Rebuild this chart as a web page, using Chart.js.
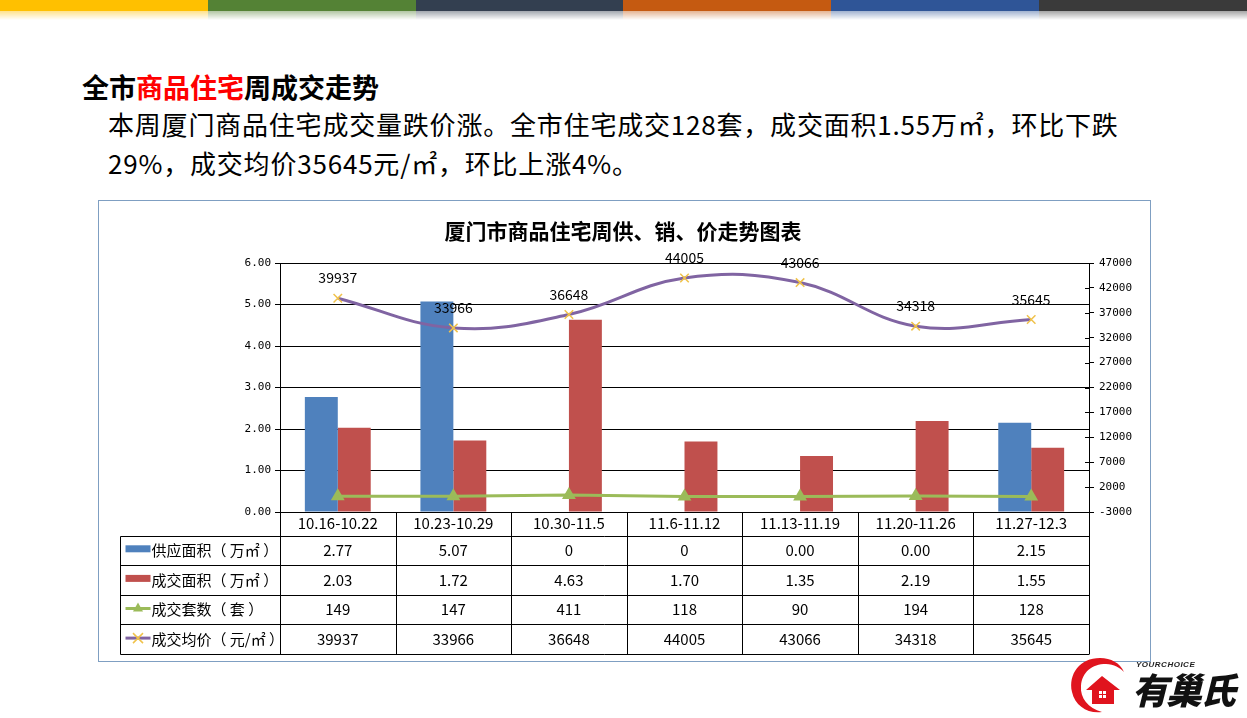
<!DOCTYPE html>
<html>
<head>
<meta charset="utf-8">
<script src="https://cdn.jsdelivr.net/npm/chart.js@4.4.0/dist/chart.umd.min.js"></script>
<style>
  body { margin: 0; width: 1247px; height: 718px; background: #fff; position: relative; overflow: hidden; font-family: "Noto Sans CJK SC", sans-serif; }
  .bar { position: absolute; left: 0; top: 0; width: 1247px; height: 11px; display: flex; }
  .bar div { flex: 1; }
  .fade { position: absolute; left: 0; top: 11px; width: 1247px; height: 9px; display: flex; opacity: .45; }
  .fade div { flex: 1; }
  .head { position: absolute; left: 82px; top: 70px; font-size: 27px; font-weight: bold; line-height: 34px; color: #000; }
  .head span { color: #ff0000; }
  .body { position: absolute; left: 108px; top: 104px; font-size: 26px; line-height: 39px; letter-spacing: 0.8px; color: #000; white-space: nowrap; }
  .box { position: absolute; left: 98px; top: 200px; width: 1051px; height: 460px; border: 1px solid #7f9fc2; }
  .ctitle { position: absolute; left: 0; top: 15px; width: 1048px; text-align: center; font-size: 21px; font-weight: bold; line-height: 28px; color: #000; }
  .logo { position: absolute; left: 1066px; top: 650px; width: 180px; height: 68px; }
  .logo .en { position: absolute; left: 70px; top: 10px; font: italic bold 8px Arial, sans-serif; letter-spacing: 0.5px; color: #222; }
  .logo .cn { position: absolute; left: 66px; top: 16px; font-size: 36px; font-weight: 900; font-style: italic; line-height: 44px; color: #111; letter-spacing: -2px; }
</style>
</head>
<body>
<div class="bar">
  <div style="background:#ffc000"></div><div style="background:#548235"></div><div style="background:#333f50"></div>
  <div style="background:#c55a11"></div><div style="background:#2f5597"></div><div style="background:#3a3a3a"></div>
</div>
<div class="fade">
  <div style="background:linear-gradient(#ffc000,transparent)"></div><div style="background:linear-gradient(#548235,transparent)"></div><div style="background:linear-gradient(#333f50,transparent)"></div>
  <div style="background:linear-gradient(#c55a11,transparent)"></div><div style="background:linear-gradient(#2f5597,transparent)"></div><div style="background:linear-gradient(#3a3a3a,transparent)"></div>
</div>

<div class="head">全市<span>商品住宅</span>周成交走势</div>
<div class="body">本周厦门商品住宅成交量跌价涨。全市住宅成交128套，成交面积1.55万㎡，环比下跌<br>29%，成交均价35645元/㎡，环比上涨4%。</div>

<div class="box">
  <canvas id="chart" width="1051" height="460"></canvas>
  <div class="ctitle">厦门市商品住宅周供、销、价走势图表</div>
</div>

<div class="logo">
  <svg width="70" height="68" viewBox="0 0 70 68">
    <path d="M34 8 C14 8 2 24 6 42 C9 56 22 64 36 62 C22 58 14 48 15 36 C16 22 26 14 40 14 C48 14 54 18 58 22 C54 13 45 8 34 8 Z" fill="#e0141e"/>
    <path d="M20 40 L36 26 L54 40 L48 40 L48 54 L26 54 L26 40 Z" fill="#e0141e"/>
    <rect x="33" y="41" width="3" height="3" fill="#fff"/><rect x="37" y="41" width="3" height="3" fill="#fff"/>
    <rect x="33" y="45" width="3" height="3" fill="#fff"/><rect x="37" y="45" width="3" height="3" fill="#fff"/>
  </svg>
  <div class="en">YOURCHOICE</div>
  <div class="cn">有巢氏</div>
</div>

<script>
// weekly periods
const weeks = ['10.16-10.22', '10.23-10.29', '10.30-11.5', '11.6-11.12', '11.13-11.19', '11.20-11.26', '11.27-12.3'];

// values as printed in the data table
const supplyText = ['2.77', '5.07', '0', '0', '0.00', '0.00', '2.15'];   // 供应面积 万㎡
const salesText  = ['2.03', '1.72', '4.63', '1.70', '1.35', '2.19', '1.55']; // 成交面积 万㎡
const unitsText  = ['149', '147', '411', '118', '90', '194', '128'];        // 成交套数 套
const priceText  = ['39937', '33966', '36648', '44005', '43066', '34318', '35645']; // 成交均价 元/㎡

const supply = supplyText.map(Number);
const sales = salesText.map(Number);
const units = unitsText.map(Number);
const price = priceText.map(Number);

const rowNames = ['供应面积（ 万㎡ ）', '成交面积（ 万㎡ ）', '成交套数（ 套 ）', '成交均价（ 元/㎡ ）'];

const C_BLUE = '#4f81bd', C_RED = '#c0504d', C_GREEN = '#9bbb59', C_PURPLE = '#8064a2', C_MARK = '#f0c24a';
const CJK = '"Noto Sans CJK SC", sans-serif';
const MONO = '"DejaVu Sans Mono", monospace';

// price labels above points, right axis inner ticks and the data table
const extras = {
    id: 'extras',
    afterDatasetsDraw(chart) {
        const ctx = chart.ctx;
        const meta = chart.getDatasetMeta(3);
        ctx.save();
        ctx.fillStyle = '#000';
        ctx.font = '14px ' + CJK;
        ctx.textAlign = 'center';
        ctx.textBaseline = 'middle';
        meta.data.forEach((pt, i) => ctx.fillText(priceText[i], pt.x, pt.y - 20));
        ctx.restore();
    },
    afterDraw(chart) {
        const ctx = chart.ctx;
        const area = chart.chartArea;
        const xs = chart.scales.x;
        const y1 = chart.scales.y1;
        ctx.save();
        ctx.strokeStyle = '#000';
        ctx.lineWidth = 1;

        // short inner tick marks on the right axis
        y1.ticks.forEach(t => {
            const y = Math.round(y1.getPixelForValue(t.value)) + 0.5;
            ctx.beginPath(); ctx.moveTo(area.right - 4, y); ctx.lineTo(area.right, y); ctx.stroke();
        });

        const colW = (area.right - area.left) / weeks.length;
        const left = 21.5;
        const rows = [area.bottom, area.bottom + 23.5];
        for (let r = 0; r < 4; r++) rows.push(rows[rows.length - 1] + 29.6);
        const bottom = rows[rows.length - 1];

        // horizontal lines
        rows.slice(1).forEach(y => {
            y = Math.round(y) + 0.5;
            ctx.beginPath(); ctx.moveTo(left, y); ctx.lineTo(area.right, y); ctx.stroke();
        });
        // vertical lines
        ctx.beginPath(); ctx.moveTo(left, Math.round(rows[1]) + 0.5); ctx.lineTo(left, Math.round(bottom) + 0.5); ctx.stroke();
        for (let i = 0; i <= weeks.length; i++) {
            const x = Math.round(area.left + i * colW) + 0.5;
            ctx.beginPath(); ctx.moveTo(x, area.bottom); ctx.lineTo(x, Math.round(bottom) + 0.5); ctx.stroke();
        }

        ctx.fillStyle = '#000';
        ctx.textBaseline = 'middle';
        ctx.textAlign = 'center';
        ctx.font = '15px ' + CJK;
        weeks.forEach((w, i) => ctx.fillText(w, xs.getPixelForValue(i), (rows[0] + rows[1]) / 2));

        const tables = [supplyText, salesText, unitsText, priceText];
        tables.forEach((arr, r) => {
            const cy = (rows[r + 1] + rows[r + 2]) / 2;
            arr.forEach((v, i) => ctx.fillText(v, xs.getPixelForValue(i), cy));
        });

        // legend keys + row names
        ctx.textAlign = 'left';
        rowNames.forEach((name, r) => {
            const cy = (rows[r + 1] + rows[r + 2]) / 2;
            const kx = left + 5, kw = 25;
            if (r < 2) {
                ctx.fillStyle = r === 0 ? C_BLUE : C_RED;
                ctx.fillRect(kx, cy - 5, kw, 7);
            } else if (r === 2) {
                ctx.strokeStyle = C_GREEN; ctx.lineWidth = 3;
                ctx.beginPath(); ctx.moveTo(kx, cy - 1); ctx.lineTo(kx + kw, cy - 1); ctx.stroke();
                ctx.fillStyle = C_GREEN;
                ctx.beginPath(); ctx.moveTo(kx + kw / 2, cy - 7); ctx.lineTo(kx + kw / 2 + 5, cy + 2); ctx.lineTo(kx + kw / 2 - 5, cy + 2); ctx.closePath(); ctx.fill();
            } else {
                ctx.strokeStyle = C_PURPLE; ctx.lineWidth = 3;
                ctx.beginPath(); ctx.moveTo(kx, cy - 1); ctx.lineTo(kx + kw, cy - 1); ctx.stroke();
                ctx.strokeStyle = C_MARK; ctx.lineWidth = 1.5;
                const mx = kx + kw / 2, my = cy - 1;
                ctx.beginPath(); ctx.moveTo(mx - 5, my - 5); ctx.lineTo(mx + 5, my + 5); ctx.moveTo(mx + 5, my - 5); ctx.lineTo(mx - 5, my + 5); ctx.stroke();
            }
            ctx.fillStyle = '#000';
            ctx.font = '15px ' + CJK;
            ctx.fillText(name, kx + kw + 1, cy);
        });
        ctx.restore();
    }
};

new Chart(document.getElementById('chart'), {
    type: 'bar',
    data: {
        labels: weeks,
        datasets: [
            { label: '供应面积（万㎡）', data: supply, backgroundColor: C_BLUE, yAxisID: 'y', barPercentage: 1, categoryPercentage: 0.57, order: 3 },
            { label: '成交面积（万㎡）', data: sales, backgroundColor: C_RED, yAxisID: 'y', barPercentage: 1, categoryPercentage: 0.57, order: 3 },
            {
                type: 'line', label: '成交套数（套）', data: units, yAxisID: 'y1', order: 2,
                borderColor: C_GREEN, borderWidth: 3, tension: 0,
                pointStyle: 'triangle', pointRadius: 5, pointBackgroundColor: C_GREEN, pointBorderColor: C_GREEN
            },
            {
                type: 'line', label: '成交均价（元/㎡）', data: price, yAxisID: 'y1', order: 1,
                borderColor: C_PURPLE, borderWidth: 3, tension: 0.4,
                pointStyle: 'crossRot', pointRadius: 6, pointBorderColor: C_MARK, pointBorderWidth: 1.5
            }
        ]
    },
    options: {
        responsive: false,
        animation: false,
        layout: { padding: { left: 131, right: 1, top: 62, bottom: 125 } },
        plugins: {
            legend: { display: false },
            tooltip: { enabled: false },
            title: { display: false }
        },
        scales: {
            x: {
                grid: { display: false },
                border: { color: '#000' },
                ticks: { display: false },
                afterFit: s => { s.height = 24; }
            },
            y: {
                position: 'left',
                min: 0, max: 6,
                ticks: { stepSize: 1, color: '#000', font: { family: MONO, size: 11 }, padding: 4, callback: v => v.toFixed(2) },
                grid: { color: '#000', tickLength: 5 },
                border: { color: '#000' },
                afterFit: s => { s.width = 50; }
            },
            y1: {
                position: 'right',
                min: -3000, max: 47000,
                ticks: { stepSize: 5000, color: '#000', font: { family: MONO, size: 11 }, padding: 5, callback: v => String(v) },
                grid: { drawOnChartArea: false, color: '#000', tickLength: 5 },
                border: { color: '#000' },
                afterFit: s => { s.width = 60; }
            }
        }
    },
    plugins: [extras]
});
</script>
</body>
</html>
